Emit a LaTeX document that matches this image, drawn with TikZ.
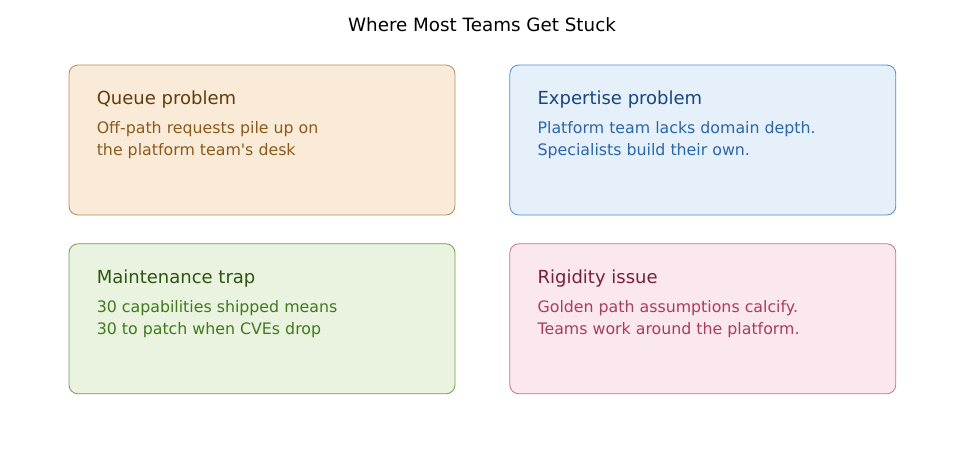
\documentclass[tikz,border=0pt]{standalone}
\usepackage{fontspec}
\setmainfont{DejaVu Sans}
\usetikzlibrary{positioning}

\definecolor{qfill}{HTML}{FAEBD9}
\definecolor{qline}{HTML}{B48C5A}
\definecolor{qhead}{HTML}{633A0E}
\definecolor{qtext}{HTML}{8A5A1C}
\definecolor{efill}{HTML}{E6F0FB}
\definecolor{eline}{HTML}{4E8CCB}
\definecolor{ehead}{HTML}{17467E}
\definecolor{etext}{HTML}{2A66A8}
\definecolor{mfill}{HTML}{EAF3DF}
\definecolor{mline}{HTML}{6E9C46}
\definecolor{mhead}{HTML}{2C5510}
\definecolor{mtext}{HTML}{3E7A1C}
\definecolor{rfill}{HTML}{FBE8EF}
\definecolor{rline}{HTML}{C47494}
\definecolor{rhead}{HTML}{76203E}
\definecolor{rtext}{HTML}{A83C62}

\begin{document}
\begin{tikzpicture}[x=1pt,y=-1pt,
  card/.style={draw,rounded corners=9pt,line width=0.8pt,minimum width=386pt,minimum height=150pt,inner sep=0pt},
  head/.style={anchor=base west,inner sep=0pt,font=\fontsize{18}{21}\selectfont},
  body/.style={anchor=north west,align=left,inner sep=0pt,font=\fontsize{15.8}{22}\selectfont}]
\useasboundingbox (0,0) rectangle (960,451);

\node[anchor=base,inner sep=0pt] (title) at (482,31) {\fontsize{18.3}{21}\selectfont Where Most Teams Get Stuck};

% top row
\node[card,fill=qfill,draw=qline] (queue) at (262,140) {};
\node[card,fill=efill,draw=eline,right=54pt of queue] (expert) {};
% bottom row
\node[card,fill=mfill,draw=mline,below=28pt of queue] (maint) {};
\node[card,fill=rfill,draw=rline,below=28pt of expert] (rigid) {};

\node[head,text=qhead] (queueh) at ([xshift=28pt,yshift=-40pt]queue.north west) {Queue problem};
\node[body,text=qtext] (queueb) at ([yshift=-17pt]queueh.base west) {Off-path requests pile up on\\the platform team\textquotesingle s desk};

\node[head,text=ehead] (experth) at ([xshift=28pt,yshift=-40pt]expert.north west) {Expertise problem};
\node[body,text=etext] (expertb) at ([yshift=-17pt]experth.base west) {Platform team lacks domain depth.\\Specialists build their own.};

\node[head,text=mhead] (mainth) at ([xshift=28pt,yshift=-40pt]maint.north west) {Maintenance trap};
\node[body,text=mtext] (maintb) at ([yshift=-17pt]mainth.base west) {30 capabilities shipped means\\30 to patch when CVEs drop};

\node[head,text=rhead] (rigidh) at ([xshift=28pt,yshift=-40pt]rigid.north west) {Rigidity issue};
\node[body,text=rtext] (rigidb) at ([yshift=-17pt]rigidh.base west) {Golden path assumptions calcify.\\Teams work around the platform.};
\end{tikzpicture}
\end{document}
